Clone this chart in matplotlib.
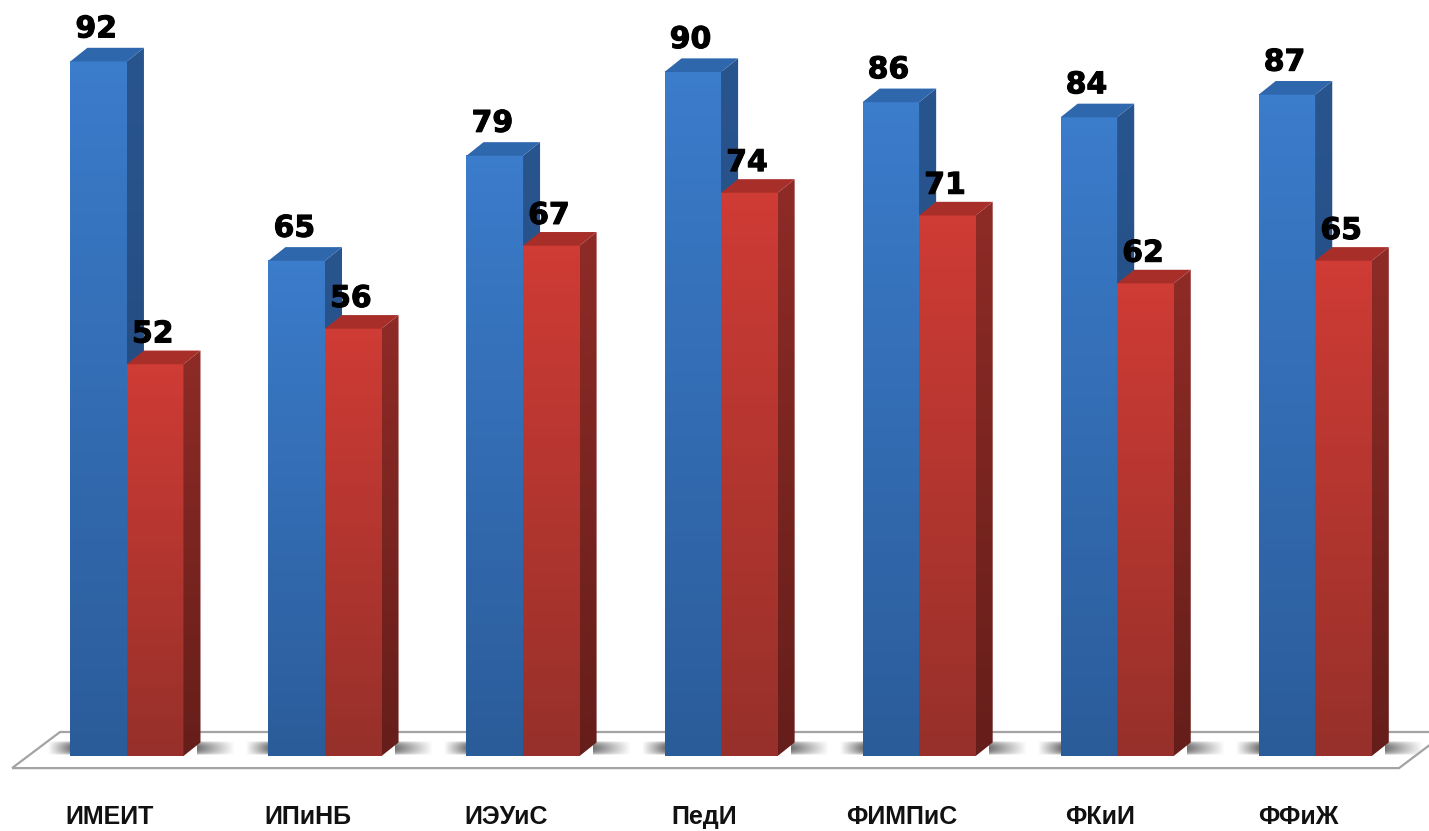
import numpy as np
import matplotlib
matplotlib.use("Agg")
import matplotlib.pyplot as plt
import matplotlib.patheffects as pe
from matplotlib.colors import LinearSegmentedColormap
from matplotlib.patches import Polygon

categories = ["ИМЕИТ", "ИПиНБ", "ИЭУиС", "ПедИ", "ФИМПиС", "ФКиИ", "ФФиЖ"]
blue_labels = [92, 65, 79, 90, 86, 84, 87]
red_labels = [52, 56, 67, 74, 71, 62, 65]
# heights as measured in the picture, they sit a bit above the printed numbers
blue_heights = [92.0, 65.6, 79.5, 90.6, 86.6, 84.6, 87.6]
red_heights = [51.9, 56.6, 67.6, 74.6, 71.6, 62.6, 65.6]

bar_width = 0.2855
depth_x = 0.086
depth_y = 1.8

blue_front = LinearSegmentedColormap.from_list("bf", ["#2b5c9a", "#3b7ccb"])
blue_side = LinearSegmentedColormap.from_list("bs", ["#1f4474", "#29558f"])
red_front = LinearSegmentedColormap.from_list("rf", ["#97302a", "#cf3b35"])
red_side = LinearSegmentedColormap.from_list("rs", ["#661e1a", "#8e2b26"])
grad = np.linspace(1, 0, 64).reshape(-1, 1)


def draw_bar(ax, left, value, front, side, top_color, z):
    right = left + bar_width
    ax.imshow(grad, cmap=front, extent=(left, right, 0, value), aspect="auto", vmin=0, vmax=1, zorder=z)
    side_poly = Polygon([(right, 0), (right + depth_x, depth_y), (right + depth_x, value + depth_y), (right, value)],
                        closed=True, transform=ax.transData, facecolor="none", edgecolor="none")
    ax.add_patch(side_poly)
    im = ax.imshow(grad, cmap=side, extent=(right, right + depth_x, 0, value + depth_y), aspect="auto",
                   vmin=0, vmax=1, zorder=z)
    im.set_clip_path(side_poly)
    ax.add_patch(Polygon([(left, value), (left + depth_x, value + depth_y), (right + depth_x, value + depth_y),
                          (right, value)], closed=True, facecolor=top_color, edgecolor="none", zorder=z))


def draw_shadow(ax, x0, x1, fade_right):
    across = np.linspace(0.55, 0, 96) if fade_right else np.linspace(0, 0.55, 96)
    down = np.sin(np.linspace(0, np.pi, 32)) ** 0.45
    # plain grey instead of an alpha image, the alpha one came out banded
    rgb = 1 - np.outer(down, across)
    ax.imshow(rgb, cmap="gray", vmin=0, vmax=1, extent=(x0, x1, 0.2, 2.0), aspect="auto", zorder=2,
              interpolation="bilinear")


fig = plt.figure(figsize=(14.29, 8.31), dpi=100)
ax = fig.add_axes([0, 0, 1, 1])
ax.axis("off")

# floor, outline goes on top of the shadows
floor = [(-0.58, -1.6), (-0.338, 3.18), (6.665, 3.18), (6.423, -1.6)]
ax.add_patch(Polygon(floor, closed=True, facecolor="white", edgecolor="none", zorder=1))
ax.add_patch(Polygon(floor, closed=True, facecolor="none", edgecolor="#a3a3a3", linewidth=1.6, zorder=2.5))

for i in range(len(categories)):
    draw_shadow(ax, i - 0.40, i - bar_width, False)
    draw_shadow(ax, i + bar_width + depth_x - 0.02, i + 0.54, True)

heavy = [pe.withStroke(linewidth=0.8, foreground="black")]
for i, name in enumerate(categories):
    z = 3 + i * 2
    draw_bar(ax, i - bar_width, blue_heights[i], blue_front, blue_side, "#2f67ad", z)
    draw_bar(ax, i, red_heights[i], red_front, red_side, "#a82e29", z + 1)
    ax.text(i - bar_width / 2 - 0.012, blue_heights[i] + 4.3, str(blue_labels[i]), ha="center", va="center",
            fontsize=21.5, fontweight="bold", color="black", zorder=30, path_effects=heavy)
    ax.text(i + bar_width / 2 - 0.012, red_heights[i] + 4.0, str(red_labels[i]), ha="center", va="center",
            fontsize=21.5, fontweight="bold", color="black", zorder=30, path_effects=heavy)
    ax.text(i - 0.087, -8.05, name, ha="center", va="center", fontsize=18, fontweight="bold",
            family="Liberation Sans", color="#111111", zorder=30)

ax.set_xlim(-0.6408, 6.5745)
ax.set_ylim(-9.93, 100.13)

fig.savefig("out.png", dpi=100, facecolor="white")
